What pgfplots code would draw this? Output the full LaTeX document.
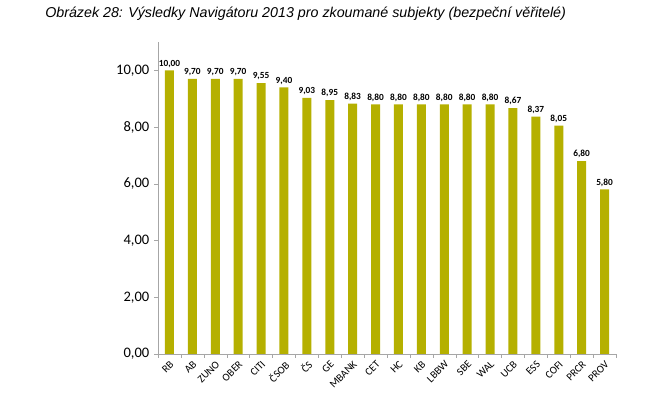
\documentclass[border=0pt]{standalone}
\usepackage{fontspec}
\setmainfont{Carlito}
\newfontfamily\arialfont{Liberation Sans}
\usepackage{pgfplots}
\pgfplotsset{compat=1.18}
\definecolor{barolive}{RGB}{181,176,0}
\definecolor{axgray}{RGB}{166,166,166}

\begin{document}
\begin{tikzpicture}
% page = 650 x 402 px, 1px = 0.75pt
\path (0,0) rectangle (487.5pt,301.5pt);
\node[anchor=base west,inner sep=0pt,font=\arialfont\itshape\fontsize{10.7}{12}\selectfont]
  at (33.75pt,288.5pt) {Obrázek 28: Výsledky Navigátoru 2013 pro zkoumané subjekty (bezpeční věřitelé)};
\begin{axis}[
  at={(118.5pt,36pt)}, anchor=south west,
  scale only axis, width=343.5pt, height=234pt,
  ybar, bar width=6.75pt,
  xmin=-0.5, xmax=19.5, ymin=0, ymax=11,
  axis x line=bottom, axis y line=left,
  axis line style={axgray,-},
  tick align=outside,
  xtick={0,...,19},
  xticklabels={RB,AB,ZUNO,OBER,CITI,ČSOB,ČS,GE,MBANK,CET,HC,KB,LBBW,SBE,WAL,UCB,ESS,COFI,PRCR,PROV},
  major x tick style={draw=none},
  minor xtick={-0.5,0.5,...,19.5},
  minor x tick style={axgray},
  minor tick length=3pt,
  ytick={0,2,...,10},
  y tick style={axgray},
  major tick length=3pt,
  x tick label style={rotate=45, anchor=north east, inner sep=1pt, font=\fontsize{8}{9}\selectfont},
  y tick label style={font=\fontsize{10.9}{12}\selectfont,
    /pgf/number format/.cd, fixed, fixed zerofill, precision=2, use comma, assume math mode=true},
  nodes near coords={\pgfmathprintnumber[fixed,fixed zerofill,precision=2,use comma,assume math mode=true]{\pgfplotspointmeta}},
  nodes near coords style={font=\bfseries\fontsize{7}{8}\selectfont, inner sep=2pt},
  clip=false,
]
\addplot[fill=barolive, draw=none] coordinates {
  (0,10.00) (1,9.70) (2,9.70) (3,9.70) (4,9.55) (5,9.40) (6,9.03) (7,8.95)
  (8,8.83) (9,8.80) (10,8.80) (11,8.80) (12,8.80) (13,8.80) (14,8.80)
  (15,8.67) (16,8.37) (17,8.05) (18,6.80) (19,5.80)
};
\end{axis}
\end{tikzpicture}
\end{document}
